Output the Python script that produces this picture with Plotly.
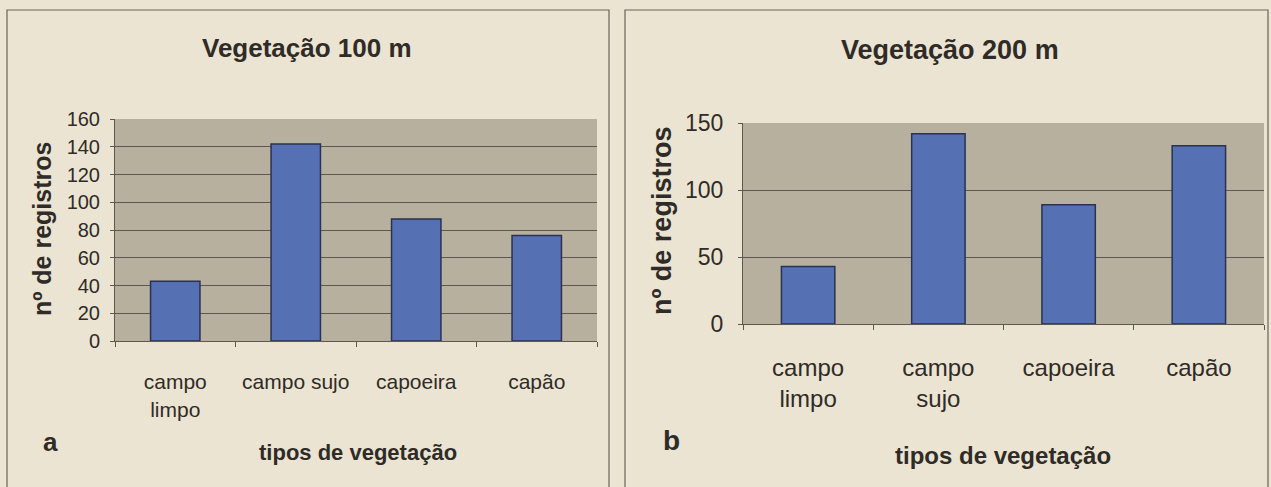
import plotly.graph_objects as go

# ---- data ----
categories = ["campo limpo", "campo sujo", "capoeira", "capão"]
labels_100 = ["campo<br>limpo", "campo sujo", "capoeira", "capão"]
labels_200 = ["campo<br>limpo", "campo<br>sujo", "capoeira", "capão"]
values_100 = [43, 142, 88, 76]
values_200 = [43, 142, 89, 133]
yticks_100 = [0, 20, 40, 60, 80, 100, 120, 140, 160]
yticks_200 = [0, 50, 100, 150]
title_100 = "Vegetação 100 m"
title_200 = "Vegetação 200 m"
ytitle = "nº de registros"
xtitle = "tipos de vegetação"

W, H = 1271, 487
FONT = "Liberation Sans, Arial, sans-serif"
TXT = "#2f2b27"
PAPER = "#ebe4d2"
PLOTBG = "#b7b09f"
GRID = "#5d584d"
BAR = "#5670b4"
BAR_LINE = "#2b3150"

def px(x):
    return x / W

def py(y):
    return 1 - y / H

fig = go.Figure()
fig.add_trace(go.Bar(x=categories, y=values_100, xaxis="x", yaxis="y",
                     marker=dict(color=BAR, line=dict(color=BAR_LINE, width=1.5)),
                     showlegend=False, hoverinfo="skip"))
fig.add_trace(go.Bar(x=categories, y=values_200, xaxis="x2", yaxis="y2",
                     marker=dict(color=BAR, line=dict(color=BAR_LINE, width=1.5)),
                     showlegend=False, hoverinfo="skip"))

common_x = dict(type="category", showline=True, linecolor=GRID, linewidth=1,
                ticks="outside", tickson="boundaries", ticklen=5, tickcolor=GRID,
                showgrid=False, zeroline=False, fixedrange=True, tickangle=0,
                automargin=False)
common_y = dict(showline=True, linecolor=GRID, linewidth=1, ticks="outside",
                ticklen=4, tickcolor=GRID, showgrid=True, gridcolor=GRID,
                gridwidth=1, zeroline=False, fixedrange=True, automargin=False)

fig.update_layout(
    width=W, height=H,
    margin=dict(l=0, r=0, t=0, b=0, pad=0, autoexpand=False),
    paper_bgcolor=PAPER, plot_bgcolor=PLOTBG,
    bargap=0.59,
    font=dict(family=FONT, color=TXT),
    xaxis=dict(common_x, domain=[px(115), px(597)], anchor="y",
               tickvals=categories, ticktext=labels_100,
               tickfont=dict(size=21, family=FONT, color=TXT), ticklabelstandoff=22),
    yaxis=dict(common_y, domain=[py(341), py(119)], anchor="x", range=[0, 160],
               tickvals=yticks_100, tickfont=dict(size=20, family=FONT, color=TXT),
               ticklabelstandoff=6),
    xaxis2=dict(common_x, domain=[px(743), px(1264)], anchor="y2",
                tickvals=categories, ticktext=labels_200,
                tickfont=dict(size=24, family=FONT, color=TXT), ticklabelstandoff=22),
    yaxis2=dict(common_y, domain=[py(324), py(123)], anchor="x2", range=[0, 150],
                tickvals=yticks_200, tickfont=dict(size=23, family=FONT, color=TXT),
                ticklabelstandoff=10),
)

# panel borders
for x0, x1 in [(7, 609), (625, 1268)]:
    fig.add_shape(type="rect", xref="paper", yref="paper",
                  x0=px(x0), x1=px(x1), y0=py(10), y1=-0.05,
                  line=dict(color="#6a6458", width=1.2), fillcolor="rgba(0,0,0,0)",
                  layer="below")

def ann(text, x, y, size, angle=0):
    fig.add_annotation(text=text, x=px(x), y=py(y), xref="paper", yref="paper",
                       showarrow=False, xanchor="center", yanchor="middle",
                       textangle=angle, font=dict(size=size, family=FONT, color=TXT))

ann("<b>%s</b>" % title_100, 307, 48, 26)
ann("<b>%s</b>" % title_200, 950, 50, 27)
ann("<b>%s</b>" % ytitle, 42, 229, 25, -90)
ann("<b>%s</b>" % ytitle, 662, 221, 27, -90)
ann("<b>%s</b>" % xtitle, 358, 452, 22)
ann("<b>%s</b>" % xtitle, 1003, 455, 24)
ann("<b>a</b>", 50, 442, 26)
ann("<b>b</b>", 671, 440, 28)

fig.write_html("out.html", config={"displayModeBar": False},
               post_script="document.body.style.margin='0';document.body.style.overflow='hidden';")
